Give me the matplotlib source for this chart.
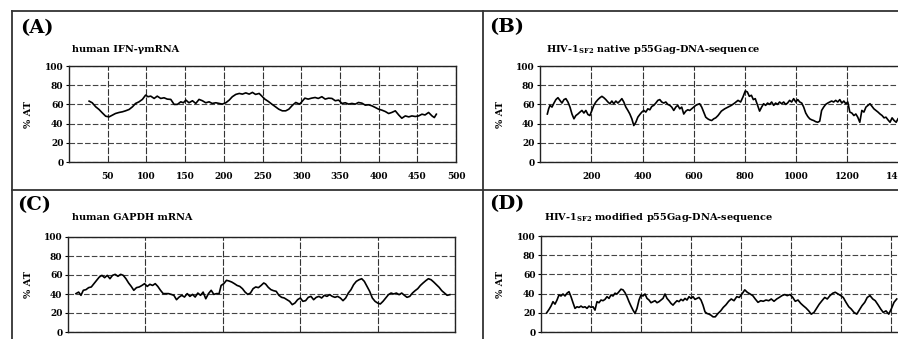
import matplotlib
matplotlib.use("Agg")
import matplotlib.pyplot as plt
from matplotlib.lines import Line2D

plt.rcParams["font.family"] = ["DejaVu Serif"]
plt.rcParams["font.weight"] = "bold"
plt.rcParams["mathtext.fontset"] = "dejavuserif"

# (A) human IFN-gamma mRNA
ifn_pos = [26, 30, 34.5, 38.8, 43, 47.4, 51.7, 56, 60, 64.7, 69, 73, 77.6, 82, 86,
           90.5, 94.8, 99, 102, 105.6, 110, 114, 118.5, 122.8, 127, 131.5, 135.8, 140,
           144.4, 147.8, 151, 155, 159.5, 163.8, 168, 172.4, 176.7, 181, 185, 189.7,
           194, 198, 202.6, 207, 211, 215.5, 220, 224, 228.4, 232.8, 237, 241, 245.7,
           248.7, 253, 257.7, 262, 266.8, 271, 275.6, 280, 284, 288.8, 293, 297.8, 300,
           304.7, 309, 313.4, 318, 322, 326.7, 331, 335.3, 339.7, 344, 348.3, 352.6,
           357, 361.2, 365.5, 370, 374, 378.4, 382.8, 387, 391.4, 395.7, 400, 404.3,
           408.6, 413, 417, 421.6, 426, 430, 434.5, 439, 443, 447.4, 451.7, 456, 460,
           464.6, 469, 472, 474.6]
ifn_at = [63.4, 61.7, 57.5, 54.7, 51.2, 47.7, 47, 48.8, 50.5, 51.6, 52.3, 53.3, 54.7,
          57.5, 61, 62.7, 65.2, 69.7, 68, 68.6, 66.2, 68.6, 66.2, 66.9, 65.5, 65.2, 60,
          60, 62.7, 61.7, 64.5, 61.7, 63.8, 61, 65.2, 63.8, 61.7, 62.7, 61, 61.7, 61,
          60.3, 61.7, 64.5, 68, 70.4, 71.4, 70.7, 72, 70.7, 72.5, 70.4, 71.4,
          69, 65.5, 63, 60.3, 57.5, 55, 53.3, 53.3, 55, 59.2, 62, 60.3, 62, 66.5, 65.5,
          66.5, 67.2, 66.2, 68, 65.5, 66.5, 66.2, 63.8, 64.5, 61, 61.7, 60.3, 61, 60.3,
          62, 61.3, 59.2, 59.6, 58.5, 56.8, 55, 54, 52.6, 50.5, 51.6, 53.3, 49, 45.6,
          48, 47, 48, 47.4, 48, 49.8, 49, 51.6, 48, 46.3, 49.8]

# (B) HIV-1 SF2 native p55Gag
nat_pos = [28.6, 33.8, 39, 46.8, 54.5, 62, 70, 78, 85.7, 93.5, 101, 109, 117, 124.7,
           132.5, 140, 148, 156, 163.6, 171.4, 179, 187, 194.8, 202.6, 210, 218, 226,
           234, 241.6, 249, 257, 265, 272.7, 280.5, 288, 296, 304, 311.7, 319.5, 327,
           335, 343, 350.6, 358.4, 366, 374, 381.8, 389.6, 397.4, 405, 413, 420.8,
           428.6, 436.4, 444, 452, 460, 467.5, 475, 483, 491, 498.7, 506.5, 514, 522,
           530, 537.7, 545.5, 553, 561, 569, 576.6, 584.4, 592, 600, 607.8, 615.6, 623,
           631, 639, 646.8, 654.5, 662, 670, 678, 685.7,
           694.8, 707.8, 720.8, 733.8, 746.8, 759.7, 772.7, 783, 792, 801, 809, 817,
           825, 832.5, 840, 849, 857, 864.9, 872.7, 880.5, 888, 896, 904, 912, 919.5,
           927, 935, 943, 951, 958.4, 966, 974, 982, 990, 998, 1006, 1013.6, 1021.4,
           1029, 1037, 1045, 1052.6, 1060.4, 1068, 1076, 1084, 1091.6, 1099, 1107,
           1115, 1123, 1130.5, 1138, 1146, 1154, 1162, 1170, 1177.9, 1185.7, 1193.5,
           1201, 1209, 1217, 1225, 1232.5, 1240, 1248, 1256, 1264, 1272, 1280, 1287.7,
           1295.5, 1303, 1311, 1319, 1327, 1335, 1342.6, 1350, 1358, 1366, 1374, 1382,
           1390, 1397]
nat_at = [50, 55.4, 59, 57.2, 61.4, 65, 67, 64.2, 61.4, 65, 66, 62.5, 57.2, 50, 45,
          48.4, 50, 52, 53.7, 51, 53.7, 49.5, 48.4, 53.7, 59, 62.5, 65, 67, 68.4, 67,
          65, 62.5, 60.7, 63.5, 60.7, 63.5, 61.4, 63.5, 66, 62.5, 57.2, 53.7, 50, 45,
          38, 41.4, 46.7, 49.5, 52, 53.7, 52, 55.4, 54.4, 57.9, 59, 61.4, 64.2, 65,
          62.5, 61.4, 62.5, 60, 59, 57.2, 53.7, 57.2, 59, 55.4, 57.2, 50, 53, 54.4,
          53.7, 55.4, 57.2, 59, 60, 60.7, 57.2, 52, 46.7, 45, 43.9, 43.2, 45, 46,
          48.4, 53, 55.4, 57.2, 59, 61.4, 64.2, 62.5, 67.7, 74, 73, 68.4, 69.5, 65, 66,
          59, 53, 57.2, 60.7, 59, 61.4, 60, 62.5, 59, 61.4, 60, 62.5, 60.7, 62.5, 60,
          61.4, 64.2, 62.5, 66, 62.5, 65, 62.5, 61.4, 57.2, 51, 47.4, 45, 43.9, 43.2,
          42, 41.4, 42.5, 53.7, 57.2, 60, 61.4, 62.5, 63.5, 62.5, 64.2, 62.5, 65, 61.4,
          63.5, 60.7, 62.5, 52, 51, 48.4, 50, 46.7, 41.4, 53.7, 52, 57.2, 59, 60.7,
          57.9, 55.4, 53.7, 52, 50, 48.4, 46, 46.7, 43.9, 41.4, 46, 43.2, 41.4, 45]

# (C) human GAPDH mRNA
gapdh_pos = [20.6, 27.5, 33.5, 39.6, 46.5, 53.3, 60.2, 67, 74, 81, 87.7, 94.6, 101.5,
             108.4, 115, 122, 129, 136, 142.8, 149.7, 156.6, 163.4, 170, 177, 184, 191,
             197.8, 204.7, 211.6, 218.5, 225.4, 232, 239, 246, 253, 259.8, 266.7,
             273.5, 280.4, 287.3, 294, 301, 308, 315, 321.7, 328.6, 335.5, 342.4,
             349.2, 356, 363, 370, 376.8, 383.7, 390.5, 395.7, 402.6, 409.5, 416, 423,
             430, 437, 443.9, 450.8, 457.6, 464.5, 471.4, 478.3, 485, 492, 499, 505.8,
             510.6, 517.5, 524.3, 531, 538, 545, 551.9, 558.8, 565.7, 572.6, 579.5,
             586.4, 593.3, 600.2, 607, 614, 620.9, 627.8, 634.7, 641.6, 648.5, 655.4,
             662.3, 669.2, 676, 683, 689.9, 696.7, 703.7, 710.6, 717.5, 724.4, 731.3,
             738, 745, 752, 759, 765.7, 772.7, 779.5, 786.4, 793.4, 800, 807, 814, 821,
             828, 834.8, 841.6, 848.5, 855.5, 862.3, 869.2, 876, 883, 890, 896.9,
             903.7, 910.6, 917.5, 924.4, 931.3, 938.2, 945, 952, 959, 965.8, 972.7,
             979.7, 986.5]
gapdh_at = [40.4, 42, 38.6, 43.9, 44.6, 46.7, 47.4, 50.9, 54.4, 57.9, 59.6, 57.2, 59.6,
            56.1, 59.6, 60.7, 58.6, 60.7, 59.6, 56.1, 51.6, 48, 43.9, 46.7, 47.4, 49,
            50.9, 48, 50.2, 49, 50.9, 48, 43.9, 40.4, 40.4, 40.4, 39.6, 38.6, 34, 36.8,
            38.6, 36.8, 40.4, 37.5, 39.6, 36.8, 41, 38.6, 42, 35, 40.4, 43.9, 39.6,
            40.4, 40.4, 49, 50.9, 54.4, 53.7, 52.6, 50.9, 49, 48, 45.6, 42, 39.6, 41,
            45.6, 47.4, 46.7, 49, 51.6,
            50.5, 47, 44.6, 43.5, 42.8, 38.6, 36.5, 35.8, 34, 32.3, 28.8, 30.5, 34,
            35.8, 32.3, 33, 36.5, 37.5, 34, 36.5, 37.5, 35.8, 38.6, 37.5, 39.3, 37.5,
            36.5, 37.5, 35.8, 33, 35.8, 41, 44.6, 49.8, 53.3, 55, 56.1, 53.3, 48, 42.8,
            35.8, 32.3, 30.5, 29.5, 32.3, 35.8, 39.3, 41, 40, 41, 39.3, 41, 38.6, 36.5,
            37.5, 41, 43.5, 45.6, 49, 51.6, 54, 56.1, 55, 52.6, 49.8, 47, 43.5, 41,
            38.6, 39.3]

# (D) HIV-1 SF2 modified p55Gag
mod_pos = [22.7, 32, 40, 48, 56, 64, 72, 80, 88, 96, 104, 112, 120, 128, 136, 144, 152,
           160, 168, 176, 184, 192, 200, 208, 216, 224, 232, 240, 248, 256, 264, 272,
           280, 288, 296, 304, 312, 320, 328, 336, 344, 352, 360, 368, 376, 384, 392,
           400, 408, 416, 424, 432, 440, 448, 456, 464, 472, 480, 488, 496, 504, 512,
           520, 528, 536, 544, 552, 560, 568, 576, 584, 592, 600, 608, 616, 624, 632,
           640, 648, 656, 664, 672, 680, 688,
           697, 708, 718.7, 729, 740, 750.7, 761, 772, 783, 793, 804, 815, 825, 836,
           847, 857, 868, 879, 889, 900, 911, 921, 932, 943, 953, 964, 975, 985, 996,
           1007, 1017, 1028, 1039, 1049, 1060, 1071, 1081, 1092, 1103, 1113, 1124,
           1135, 1145, 1156, 1167, 1177, 1188, 1199, 1209, 1220, 1231, 1241, 1252,
           1263, 1273, 1284, 1295, 1305, 1316, 1327, 1337, 1348, 1359, 1369, 1380,
           1391, 1401, 1412, 1423]
mod_at = [20, 23.5, 27, 31.6, 29, 33.3, 38.6, 37.5, 39.6, 37.5, 40.4, 42, 36.8, 30.5,
          24.6, 26.3, 25.6, 27, 25.6, 26.3, 24.6, 27, 25.6, 26.3, 22.8, 31.6, 30.5,
          33.3, 32.6, 34, 36.8, 35, 38.6, 37.5, 40.4, 39.6, 42, 44.6, 43.9, 41, 36.8,
          31.6, 27, 22.8, 19.3, 24.6, 33.3, 38.6, 37.5, 39.6, 35, 33.3, 30.5, 31.6,
          32.6, 30.5, 31.6, 33.3, 35, 39.6, 35, 32.6, 29.8, 28, 30.5, 32.6, 31.6, 34,
          32.6, 35, 33.3, 36.8, 35, 36.8, 34, 35, 36, 33.3, 28, 21, 19.3, 18.6, 17.5,
          15.8,
          15.8, 19.3, 22, 25.6, 28.4, 32, 34.4, 32.6, 36.8, 36, 39.6, 43.9, 41.4, 39.6,
          37.9, 34.4, 30.9, 32.6, 32, 33.3, 32.6, 34.4, 32, 34.4, 36, 37.9, 39, 37.9,
          39, 36, 32, 33.3, 29.8, 27.4, 25, 22, 18.6, 20.4, 25, 29, 32.6, 36, 34.4,
          37.9, 40.4, 41.4, 39.6, 37.9, 36, 30.9, 26.3, 23.9, 20.4, 18.6, 22.8, 27.4,
          30.9, 36, 37.9, 34.4, 32.6, 28.4, 23.9, 20.4, 22, 18.6, 23.9, 30.9, 34.4]

y_ticks = [0, 20, 40, 60, 80, 100]
W, H = 898, 339


def fx(px):
    return px / W


def fy(py):
    return 1 - py / H


fig = plt.figure(figsize=(W / 100, H / 100), dpi=100)
fig.patch.set_facecolor("white")

# panel rects in pixels: left, top, right, bottom (bottom row is cut by the page edge)
panels = [
    (69, 66, 456, 162, ifn_pos, ifn_at, 500, list(range(50, 501, 50)), True,
     "(A)", (20, 28), "human IFN-\u03b3mRNA", (72, 49), 33),
    (540, 66, 950, 162, nat_pos, nat_at, 1600, list(range(200, 1401, 200)), True,
     "(B)", (489, 27), r"HIV-1$_{\mathbf{SF2}}$ native p55Gag-DNA-sequence", (546, 49), 505),
    (68, 237, 455, 332, gapdh_pos, gapdh_at, 1000, list(range(200, 1001, 200)), False,
     "(C)", (17, 205), "human GAPDH mRNA", (72, 218), 33),
    (541, 236, 941, 332, mod_pos, mod_at, 1600, list(range(200, 1601, 200)), False,
     "(D)", (489, 204), r"HIV-1$_{\mathbf{SF2}}$ modified p55Gag-DNA-sequence", (544, 217), 505),
]

for (l, t, r, b, xs, ys, xmax, xt, show_x, tag, tag_xy, title, title_xy, ylab_x) in panels:
    ax = fig.add_axes([fx(l), fy(b), (r - l) / W, (b - t) / H])
    ax.plot(xs, ys, color="black", lw=1.2, zorder=3)
    ax.set_xlim(0, xmax)
    ax.set_ylim(0, 100)
    ax.set_yticks(y_ticks)
    ax.set_xticks(xt)
    ax.grid(axis="y", color="#444444", lw=0.8, linestyle=(0, (5, 2)))
    ax.grid(axis="x", color="#333333", lw=0.8, linestyle=(0, (6, 1.5)))
    for s in ax.spines.values():
        s.set_color("#222222")
        s.set_linewidth(1.0)
    ax.tick_params(axis="y", labelsize=6.5, length=2.5, pad=1.5, width=0.8)
    ax.tick_params(axis="x", labelsize=6.5, length=0, pad=7, labelbottom=show_x)
    for lab in ax.get_xticklabels() + ax.get_yticklabels():
        lab.set_fontweight("bold")
    ax.set_ylabel("% AT", fontsize=7, fontweight="bold")
    ax.yaxis.set_label_coords((ylab_x - l) / (r - l), 0.5)
    fig.text(fx(tag_xy[0]), fy(tag_xy[1]), tag, fontsize=14, fontweight="bold",
             va="center", ha="left")
    fig.text(fx(title_xy[0]), fy(title_xy[1]), title, fontsize=7, fontweight="bold",
             va="center", ha="left")

# frame lines of the figure panels
frame = dict(color="#333333", lw=1.3, transform=fig.transFigure)
fig.add_artist(Line2D([fx(12), 1], [fy(11), fy(11)], **frame))
fig.add_artist(Line2D([fx(12), 1], [fy(190), fy(190)], **frame))
fig.add_artist(Line2D([fx(12), fx(12)], [fy(11), 0], **frame))
fig.add_artist(Line2D([fx(483), fx(483)], [fy(11), 0], **frame))

fig.savefig("out.png", dpi=100)
